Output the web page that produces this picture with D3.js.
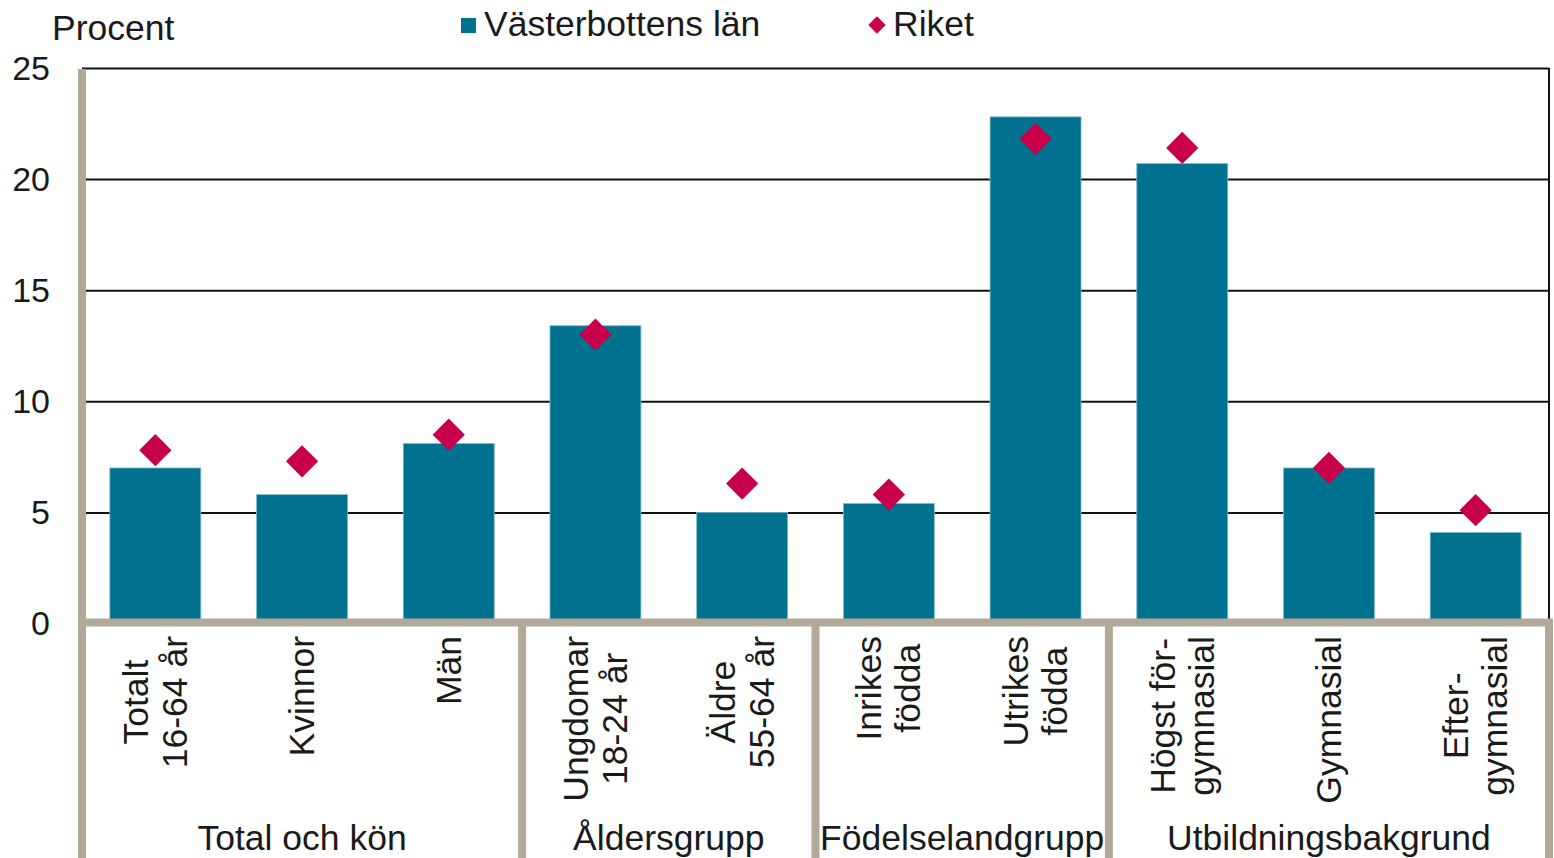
<!DOCTYPE html>
<html>
<head>
<meta charset="utf-8">
<script src="https://cdn.jsdelivr.net/npm/d3@7"></script>
<style>
  body { margin: 0; background: #fff; }
  text { font-family: "Liberation Sans", Arial, sans-serif; fill: #1a1a1a; }
</style>
</head>
<body>
<div id="chart"></div>
<script>
// Category labels (each entry = lines of the rotated label)
const categories = [
  ["Totalt", "16-64 år"], ["Kvinnor"], ["Män"],
  ["Ungdomar", "18-24 år"], ["Äldre", "55-64 år"],
  ["Inrikes", "födda"], ["Utrikes", "födda"],
  ["Högst för-", "gymnasial"], ["Gymnasial"], ["Efter-", "gymnasial"]
];
const vasterbotten = [7.0, 5.8, 8.1, 13.4, 5.0, 5.4, 22.8, 20.7, 7.0, 4.1];
const riket = [7.8, 7.3, 8.5, 13.0, 6.3, 5.8, 21.8, 21.4, 7.0, 5.1];
const groupNames = ["Total och kön", "Åldersgrupp", "Födelselandgrupp", "Utbildningsbakgrund"];
const groupSizes = [3, 2, 2, 3];
const yTicks = [0, 5, 10, 15, 20, 25];
const legendLabels = ["Västerbottens län", "Riket"];

const width = 1554, height = 858;
const barColor = "#00728f", dotColor = "#c8004b", tan = "#b3a999";
const fontSize = 35.5;

const svg = d3.select("#chart").append("svg")
  .attr("width", width)
  .attr("height", height);

const x = d3.scaleBand()
  .domain(d3.range(categories.length))
  .range([82, 1549])
  .paddingInner(0.38)
  .paddingOuter(0.19);

const y = d3.scaleLinear()
  .domain([0, 25])
  .range([623.5, 68]);

// boundary between categories i-1 and i
function edge(i) {
  if (i >= categories.length) return x.range()[1];
  return x(i) - x.step() * x.paddingOuter();
}

// Gridlines
svg.append("g")
  .attr("class", "grid")
  .attr("transform", "translate(82,0)")
  .call(d3.axisLeft(y).tickValues(yTicks.filter(d => d > 0)).tickSize(-(1549 - 82)).tickFormat(""))
  .call(g => g.select(".domain").remove())
  .call(g => g.selectAll("line").attr("stroke", "#111").attr("stroke-width", 2));

// Right border
svg.append("line")
  .attr("x1", 1549).attr("x2", 1549)
  .attr("y1", y(25)).attr("y2", y(0))
  .attr("stroke", "#111").attr("stroke-width", 2);

// Tick labels
svg.append("g")
  .attr("transform", "translate(50,0)")
  .call(d3.axisLeft(y).tickValues(yTicks).tickSize(0).tickPadding(0))
  .call(g => g.select(".domain").remove())
  .call(g => g.selectAll("text")
    .attr("dy", null)
    .attr("y", 11)
    .style("font-size", "34px")
    .style("font-family", "Liberation Sans, Arial, sans-serif")
    .attr("fill", "#1a1a1a"));

// Bars
svg.append("g").selectAll("rect")
  .data(vasterbotten)
  .enter().append("rect")
  .attr("x", (d, i) => x(i))
  .attr("y", d => y(d))
  .attr("width", x.bandwidth())
  .attr("height", d => y(0) - y(d))
  .attr("fill", barColor)
  .attr("stroke", "#7fbccd")
  .attr("stroke-width", 0.8);

// Riket diamonds
const diamond = d3.symbol().type(d3.symbolSquare).size(520);
svg.append("g").selectAll("path")
  .data(riket)
  .enter().append("path")
  .attr("d", diamond)
  .attr("transform", (d, i) => `translate(${x(i) + x.bandwidth() / 2},${y(d)}) rotate(45)`)
  .attr("fill", dotColor);

// Axis frame: left, baseline and group separators
const axisG = svg.append("g").attr("stroke", tan).attr("stroke-width", 8);
axisG.append("line")
  .attr("x1", 82).attr("x2", 82)
  .attr("y1", y(25) + 1).attr("y2", height);
axisG.append("line")
  .attr("x1", 78).attr("x2", 1553)
  .attr("y1", 622.5).attr("y2", 622.5);

let starts = [0];
groupSizes.forEach((n, i) => starts.push(starts[i] + n));
starts.slice(1).forEach(s => {
  axisG.append("line")
    .attr("x1", edge(s)).attr("x2", edge(s))
    .attr("y1", 622.5).attr("y2", height);
});

// Rotated category labels
const labelTop = 636;
const lineH = 39;
const catG = svg.append("g").selectAll("g")
  .data(categories)
  .enter().append("g")
  .attr("transform", (d, i) => `translate(${x(i) + x.bandwidth() / 2},${labelTop}) rotate(-90)`);

catG.each(function(lines) {
  const g = d3.select(this);
  const texts = lines.map((t, j) => g.append("text")
    .attr("y", (j - (lines.length - 1) / 2) * lineH)
    .attr("dominant-baseline", "central")
    .attr("text-anchor", "middle")
    .style("font-size", fontSize + "px")
    .text(t));
  const maxLen = d3.max(texts, t => t.node().getComputedTextLength());
  texts.forEach(t => t.attr("x", -maxLen / 2));
});

// Group labels
svg.append("g").selectAll("text")
  .data(groupNames)
  .enter().append("text")
  .attr("x", (d, i) => (edge(starts[i]) + edge(starts[i + 1])) / 2)
  .attr("y", 850)
  .attr("text-anchor", "middle")
  .style("font-size", fontSize + "px")
  .text(d => d);

// Y title
svg.append("text")
  .attr("x", 52).attr("y", 40)
  .style("font-size", fontSize + "px")
  .text("Procent");

// Legend
const legend = svg.append("g");
legend.append("rect")
  .attr("x", 461).attr("y", 18)
  .attr("width", 15).attr("height", 15)
  .attr("fill", barColor);
legend.append("text")
  .attr("x", 484).attr("y", 36)
  .style("font-size", fontSize + "px")
  .text(legendLabels[0]);
legend.append("path")
  .attr("d", d3.symbol().type(d3.symbolSquare).size(150))
  .attr("transform", "translate(877,25) rotate(45)")
  .attr("fill", dotColor);
legend.append("text")
  .attr("x", 893).attr("y", 36)
  .style("font-size", fontSize + "px")
  .text(legendLabels[1]);
</script>
</body>
</html>
